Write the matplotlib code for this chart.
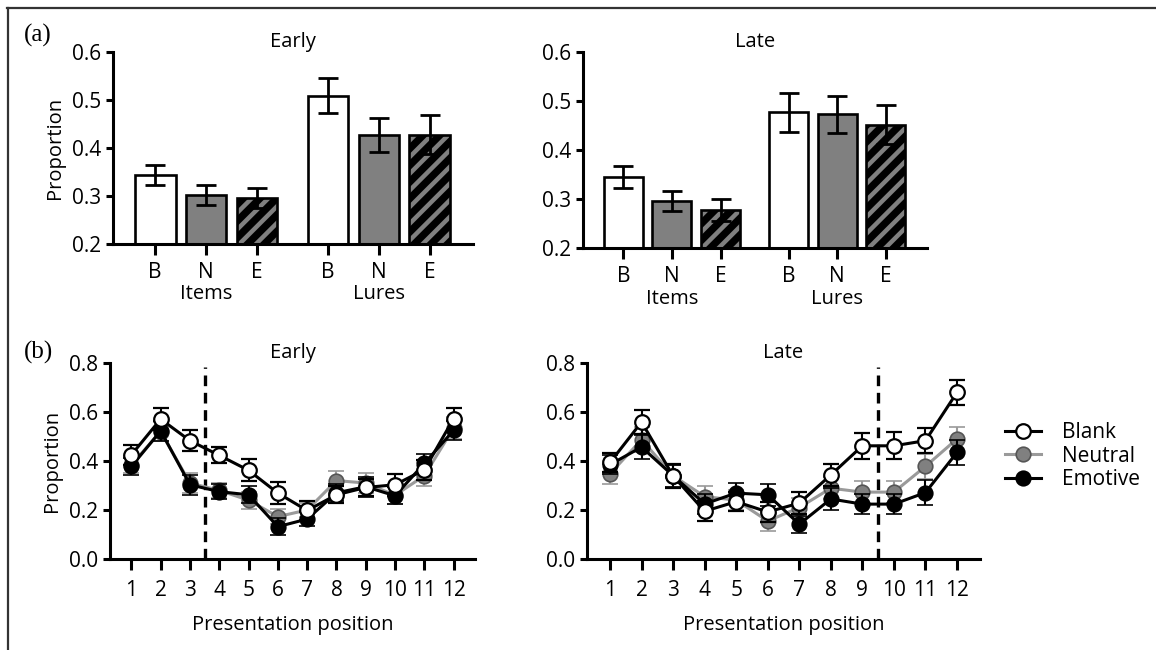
import matplotlib
matplotlib.use("Agg")
import matplotlib.pyplot as plt
import numpy as np
from matplotlib.lines import Line2D
from matplotlib import transforms

# ---------------- data ----------------
bar_labels = ["B", "N", "E", "B", "N", "E"]
group_labels = ["Items", "Lures"]
early_bar_vals = [0.344, 0.302, 0.296, 0.509, 0.427, 0.428]
early_bar_err = [0.021, 0.021, 0.020, 0.037, 0.035, 0.041]
late_bar_vals = [0.345, 0.296, 0.277, 0.477, 0.473, 0.452]
late_bar_err = [0.022, 0.021, 0.022, 0.040, 0.038, 0.039]

positions = list(range(1, 13))
early_blank = [0.425, 0.571, 0.483, 0.423, 0.362, 0.269, 0.198, 0.262, 0.292, 0.303, 0.364, 0.573]
early_neutral = [0.385, 0.520, 0.310, 0.280, 0.240, 0.173, 0.200, 0.320, 0.310, 0.260, 0.340, 0.535]
early_emotive = [0.378, 0.523, 0.303, 0.275, 0.262, 0.132, 0.163, 0.270, 0.295, 0.258, 0.390, 0.525]
early_blank_err = [0.040, 0.045, 0.042, 0.033, 0.045, 0.045, 0.037, 0.035, 0.035, 0.045, 0.040, 0.045]
early_neutral_err = [0.035, 0.040, 0.040, 0.030, 0.035, 0.030, 0.030, 0.040, 0.040, 0.035, 0.040, 0.045]
early_emotive_err = [0.035, 0.040, 0.040, 0.030, 0.035, 0.035, 0.030, 0.035, 0.040, 0.035, 0.040, 0.040]

late_blank = [0.394, 0.559, 0.339, 0.195, 0.234, 0.192, 0.228, 0.343, 0.462, 0.462, 0.483, 0.680]
late_neutral = [0.348, 0.487, 0.340, 0.255, 0.240, 0.155, 0.210, 0.289, 0.273, 0.273, 0.378, 0.490]
late_emotive = [0.385, 0.457, 0.340, 0.225, 0.269, 0.262, 0.142, 0.245, 0.224, 0.224, 0.271, 0.435]
late_blank_err = [0.040, 0.050, 0.048, 0.040, 0.040, 0.040, 0.044, 0.045, 0.052, 0.055, 0.052, 0.052]
late_neutral_err = [0.040, 0.050, 0.045, 0.045, 0.040, 0.040, 0.040, 0.045, 0.045, 0.045, 0.050, 0.050]
late_emotive_err = [0.040, 0.050, 0.045, 0.040, 0.040, 0.045, 0.035, 0.045, 0.040, 0.040, 0.050, 0.050]

early_boundary = 3.5
late_boundary = 9.5
series_names = ["Blank", "Neutral", "Emotive"]

# ---------------- style ----------------
FONT = "Open Sans"
plt.rcParams["font.family"] = [FONT, "DejaVu Sans"]
plt.rcParams["hatch.linewidth"] = 3.2
FS_TICK = 15
FS_LAB = 14.5
SPW = 2.2
GREY = "#808080"
LGREY = "#9a9a9a"

fig = plt.figure(figsize=(11.56, 6.5), dpi=100)
W, H = 1156, 650


def ax_px(x0, x1, ytop, ybot):
    return fig.add_axes([x0 / W, 1 - ybot / H, (x1 - x0) / W, (ybot - ytop) / H])


def style_axes(ax):
    for s in ["top", "right"]:
        ax.spines[s].set_visible(False)
    for s in ["left", "bottom"]:
        ax.spines[s].set_linewidth(SPW)
    ax.tick_params(axis="y", direction="out", length=5, width=SPW, labelsize=FS_TICK, pad=3.5)
    ax.tick_params(axis="x", direction="out", length=7, width=SPW, labelsize=FS_TICK, pad=5)


bar_x = np.array([0, 1, 2, 3.4, 4.4, 5.4])


def bar_panel(ax, vals, errs, title):
    style_axes(ax)
    faces = ["white", GREY, "black"]
    for i, (x, v) in enumerate(zip(bar_x, vals)):
        k = i % 3
        if k == 2:
            ax.bar(x, v, width=0.8, color="black", edgecolor=GREY, hatch="//", linewidth=0, zorder=2)
            ax.bar(x, v, width=0.8, fill=False, edgecolor="black", linewidth=1.9, zorder=3)
        else:
            ax.bar(x, v, width=0.8, color=faces[k], edgecolor="black", linewidth=1.9, zorder=2)
    ax.errorbar(bar_x, vals, yerr=errs, fmt="none", ecolor="black", elinewidth=2.0,
                capsize=7.5, capthick=2.0, zorder=4)
    ax.set_ylim(0.2, 0.6)
    ax.set_yticks([0.2, 0.3, 0.4, 0.5, 0.6])
    ax.set_yticklabels(["0.2", "0.3", "0.4", "0.5", "0.6"])
    ax.set_xlim(-0.83, 6.25)
    ax.set_xticks(bar_x)
    ax.set_xticklabels(bar_labels)
    ax.tick_params(axis="x", length=8, pad=5)
    trans = transforms.blended_transform_factory(ax.transData, ax.transAxes)
    ax.text(bar_x[1], -0.26, group_labels[0], transform=trans, ha="center", va="center", fontsize=FS_LAB)
    ax.text(bar_x[4], -0.26, group_labels[1], transform=trans, ha="center", va="center", fontsize=FS_LAB)
    ax.set_title(title, fontsize=FS_LAB, pad=1)


def line_panel(ax, blank, neutral, emotive, be, ne, ee, boundary, title):
    style_axes(ax)
    ax.errorbar(positions, neutral, yerr=ne, color=LGREY, lw=2.2, marker="o", ms=10.5,
                mfc=GREY, mec="#555555", mew=1.2, ecolor=LGREY, elinewidth=1.5,
                capsize=5.5, capthick=1.5, zorder=3)
    ax.errorbar(positions, emotive, yerr=ee, color="black", lw=2.2, marker="o", ms=10.5,
                mfc="black", mec="black", mew=1.2, ecolor="black", elinewidth=1.5,
                capsize=5.5, capthick=1.5, zorder=4)
    ax.errorbar(positions, blank, yerr=be, color="black", lw=2.2, marker="o", ms=10.5,
                mfc="white", mec="black", mew=1.6, ecolor="black", elinewidth=1.5,
                capsize=5.5, capthick=1.5, zorder=5)
    ax.plot([boundary, boundary], [0, 0.785], color="black", lw=2.4, ls=(0, (3.2, 2.0)), zorder=2)
    ax.set_ylim(0, 0.8)
    ax.set_yticks([0, 0.2, 0.4, 0.6, 0.8])
    ax.set_yticklabels(["0.0", "0.2", "0.4", "0.6", "0.8"])
    ax.set_xlim(0.27, 12.73)
    ax.set_xticks(positions)
    ax.set_xticklabels([str(p) for p in positions])
    ax.tick_params(axis="x", length=8, pad=7)
    ax.set_xlabel("Presentation position", fontsize=FS_LAB, labelpad=10)
    ax.set_title(title, fontsize=FS_LAB, pad=1)


ax1 = ax_px(113, 473, 52, 244)
bar_panel(ax1, early_bar_vals, early_bar_err, "Early")
ax1.set_ylabel("Proportion", fontsize=FS_LAB, labelpad=5)

ax2 = ax_px(583, 927, 52, 248)
bar_panel(ax2, late_bar_vals, late_bar_err, "Late")

ax3 = ax_px(110, 475, 363, 559)
line_panel(ax3, early_blank, early_neutral, early_emotive,
           early_blank_err, early_neutral_err, early_emotive_err, early_boundary, "Early")
ax3.set_ylabel("Proportion", fontsize=FS_LAB, labelpad=5)

ax4 = ax_px(587, 980, 363, 559)
line_panel(ax4, late_blank, late_neutral, late_emotive,
           late_blank_err, late_neutral_err, late_emotive_err, late_boundary, "Late")

# legend
handles = [
    Line2D([], [], color="black", lw=2.2, marker="o", ms=10.5, mfc="white", mec="black", mew=1.6),
    Line2D([], [], color=LGREY, lw=2.2, marker="o", ms=10.5, mfc=GREY, mec="#555555", mew=1.2),
    Line2D([], [], color="black", lw=2.2, marker="o", ms=10.5, mfc="black", mec="black", mew=1.2),
]
fig.legend(handles, series_names, loc="center left", bbox_to_anchor=(1005 / W, 1 - 456 / H),
           frameon=False, fontsize=15, handlelength=1.75, handletextpad=1.0,
           labelspacing=0.12, borderpad=0, borderaxespad=0)

# panel letters
fig.text(24 / W, 1 - 35 / H, "(a)", family=["Liberation Serif", "DejaVu Serif"], fontsize=18,
         ha="left", va="center")
fig.text(24 / W, 1 - 352 / H, "(b)", family=["Liberation Serif", "DejaVu Serif"], fontsize=18,
         ha="left", va="center")

# frame lines
fig.add_artist(Line2D([7 / W, 1.0], [1 - 8 / H, 1 - 8 / H], color="#333333", lw=1.6,
                      transform=fig.transFigure))
fig.add_artist(Line2D([8 / W, 8 / W], [1 - 8 / H, 0], color="#333333", lw=1.6,
                      transform=fig.transFigure))

fig.savefig("out.png", dpi=100)
